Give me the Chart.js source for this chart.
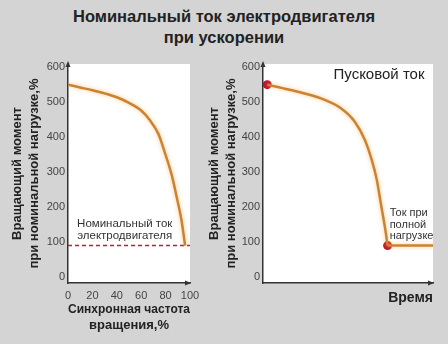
<!DOCTYPE html>
<html>
<head>
<meta charset="utf-8">
<script src="https://cdn.jsdelivr.net/npm/chart.js@4.4.1/dist/chart.umd.min.js"></script>
<style>
html, body { margin: 0; padding: 0; }
body {
    width: 448px; height: 344px; position: relative; overflow: hidden;
    background: #d4d4d4;
    font-family: "Liberation Sans", Arial, sans-serif;
}
#title {
    position: absolute; left: 0; top: 6px; width: 448px;
    text-align: center; font-weight: bold; font-size: 16.5px; line-height: 21px; color: #222;
}
.box { position: absolute; top: 0; height: 344px; }
</style>
</head>
<body>
<div id="title">Номинальный ток электродвигателя<br>при ускорении</div>
<div class="box" style="left:0;width:200px"><canvas id="chart-speed"></canvas></div>
<div class="box" style="left:200px;width:248px"><canvas id="chart-time"></canvas></div>

<script>
// torque vs synchronous speed, %
var speedPct    = [0, 10, 20, 30, 40, 50, 60, 67, 74, 79, 85, 89, 93, 96];
var speedTorque = [550, 542, 534, 525, 514, 498, 476, 449, 410, 360, 292, 230, 163, 90];
var speedTicks  = [0, 20, 40, 60, 80, 100];

// torque vs time during start-up
var timeSteps  = [2.5, 15, 34.5, 46, 54, 60, 64, 67, 68, 70, 72, 73.3];
var timeTorque = [550, 536, 510, 482, 444, 391, 334, 277, 249, 191, 134, 90];
var timeEnd    = 100;

var ratedLevel = 90;
var torqueTicks = [0, 100, 200, 300, 400, 500, 600];

Chart.defaults.font.family = '"Liberation Sans", Arial, sans-serif';
Chart.defaults.animation = false;

function pairs(xs, ys) {
    var out = [];
    for (var i = 0; i < xs.length; i++) {
        out[out.length] = {x: xs[i], y: ys[i]};
    }
    return out;
}

var plotBg = {
    id: 'plotBg',
    beforeDraw: function(chart) {
        var a = chart.chartArea, ctx = chart.ctx;
        ctx.save();
        ctx.fillStyle = '#fff';
        ctx.fillRect(a.left, a.top, a.right - a.left, a.bottom - a.top);
        ctx.restore();
    }
};

// soft halo round the torque curves
var glow = {
    id: 'glow',
    beforeDatasetDraw: function(chart, args) {
        var ctx = chart.ctx;
        ctx.save();
        if (args.meta.dataset && chart.data.datasets[args.index].glow) {
            ctx.shadowColor = 'rgba(247,175,80,0.7)';
            ctx.shadowBlur = 4;
        }
    },
    afterDatasetDraw: function(chart) {
        chart.ctx.restore();
    }
};

var arrows = {
    id: 'arrows',
    afterDraw: function(chart) {
        var a = chart.chartArea, ctx = chart.ctx;
        ctx.save();
        ctx.fillStyle = '#333';
        ctx.beginPath();
        ctx.moveTo(a.left, a.top - 3);
        ctx.lineTo(a.left - 2.5, a.top + 3);
        ctx.lineTo(a.left + 2.5, a.top + 3);
        ctx.closePath();
        ctx.fill();
        ctx.beginPath();
        ctx.moveTo(a.right + 1, a.bottom);
        ctx.lineTo(a.right - 5, a.bottom - 2.5);
        ctx.lineTo(a.right - 5, a.bottom + 2.5);
        ctx.closePath();
        ctx.fill();
        ctx.restore();
    }
};

var notes = {
    id: 'notes',
    afterDatasetsDraw: function(chart, args, opts) {
        var ctx = chart.ctx, xs = chart.scales.x, ys = chart.scales.y;
        ctx.save();
        ctx.textBaseline = 'middle';
        (opts.items || []).forEach(function(n) {
            ctx.font = n.size + 'px "Liberation Sans", Arial, sans-serif';
            ctx.fillStyle = n.color || '#333';
            ctx.textAlign = n.align || 'left';
            ctx.fillText(n.text, xs.getPixelForValue(n.x), ys.getPixelForValue(n.y));
        });
        ctx.restore();
    }
};

function torqueAxis(width) {
    return {
        min: -17, max: 609,
        afterFit: function(s) { s.width = width; },
        afterBuildTicks: function(s) {
            s.ticks = torqueTicks.map(function(v) { return {value: v}; });
        },
        grid: {display: false, drawTicks: false},
        border: {display: true, color: '#333', width: 1.5},
        ticks: {color: '#444', font: {size: 11}, padding: 3},
        title: {
            display: true,
            text: ['Вращающий момент', 'при номинальной нагрузке,%'],
            color: '#222',
            font: {size: 13, weight: 'bold', lineHeight: 1.3},
            padding: {top: 1, bottom: 0}
        }
    };
}

// fixed height, and no extra room for the end tick labels
function fitX(s) {
    s.height = 53;
    s.paddingLeft = 0;
    s.paddingRight = 0;
}

new Chart(document.getElementById('chart-speed'), {
    type: 'line',
    data: {
        datasets: [
            {
                data: pairs(speedPct, speedTorque),
                borderColor: '#cc8233',
                borderWidth: 2.5,
                pointRadius: 0,
                cubicInterpolationMode: 'monotone',
                glow: true
            },
            {
                data: [{x: 0, y: ratedLevel}, {x: 100, y: ratedLevel}],
                borderColor: '#c21a32',
                borderWidth: 1.5,
                borderDash: [4, 3],
                pointRadius: 0
            }
        ]
    },
    options: {
        responsive: true,
        maintainAspectRatio: false,
        layout: {padding: {top: 64, right: 10, bottom: 8, left: 8}},
        plugins: {
            legend: {display: false},
            tooltip: {enabled: false},
            notes: {items: [
                {text: 'Номинальный ток', x: 46.5, y: 153, size: 11.5, align: 'center'},
                {text: 'электродвигателя', x: 46.5, y: 119, size: 11.5, align: 'center'}
            ]}
        },
        scales: {
            x: {
                type: 'linear', min: 0, max: 100,
                afterFit: fitX,
                afterBuildTicks: function(s) {
                    s.ticks = speedTicks.map(function(v) { return {value: v}; });
                },
                grid: {display: false, drawTicks: false},
                border: {display: true, color: '#333', width: 1.5},
                ticks: {color: '#444', font: {size: 11}, padding: 6, maxRotation: 0},
                title: {
                    display: true,
                    text: ['Синхронная частота', 'вращения,%'],
                    color: '#222',
                    font: {size: 13, weight: 'bold', lineHeight: 1.25},
                    padding: {top: 0, bottom: 2}
                }
            },
            y: torqueAxis(60)
        }
    },
    plugins: [plotBg, glow, arrows, notes]
});

var knee = timeSteps.length - 1;

new Chart(document.getElementById('chart-time'), {
    type: 'line',
    data: {
        datasets: [
            {
                data: pairs(timeSteps, timeTorque),
                borderColor: '#cc8233',
                borderWidth: 2.5,
                pointRadius: 0,
                cubicInterpolationMode: 'monotone',
                glow: true
            },
            {
                data: [{x: timeSteps[knee], y: timeTorque[knee]}, {x: timeEnd, y: timeTorque[knee]}],
                borderColor: '#cc8233',
                borderWidth: 2.5,
                pointRadius: 0,
                glow: true
            },
            {
                data: [{x: timeSteps[0], y: timeTorque[0]}, {x: timeSteps[knee], y: timeTorque[knee]}],
                showLine: false,
                pointRadius: 4.5,
                pointBackgroundColor: '#c0102c',
                pointBorderWidth: 0
            }
        ]
    },
    options: {
        responsive: true,
        maintainAspectRatio: false,
        layout: {padding: {top: 64, right: 15, bottom: 8, left: 5}},
        plugins: {
            legend: {display: false},
            tooltip: {enabled: false},
            notes: {items: [
                {text: 'Пусковой ток', x: 95, y: 577, size: 15, align: 'right', color: '#222'},
                {text: 'Ток при', x: 74.5, y: 183, size: 11},
                {text: 'полной', x: 74.5, y: 150, size: 11},
                {text: 'нагрузке', x: 74.5, y: 117, size: 11}
            ]}
        },
        scales: {
            x: {
                type: 'linear', min: 0, max: timeEnd,
                afterFit: fitX,
                grid: {display: false, drawTicks: false},
                border: {display: true, color: '#333', width: 1.5},
                ticks: {display: false},
                title: {
                    display: true,
                    text: 'Время',
                    align: 'end',
                    color: '#222',
                    font: {size: 14, weight: 'bold', lineHeight: 1.2},
                    padding: {top: 0, bottom: 29.6}
                }
            },
            y: torqueAxis(58)
        }
    },
    plugins: [plotBg, glow, arrows, notes]
});
</script>
</body>
</html>
